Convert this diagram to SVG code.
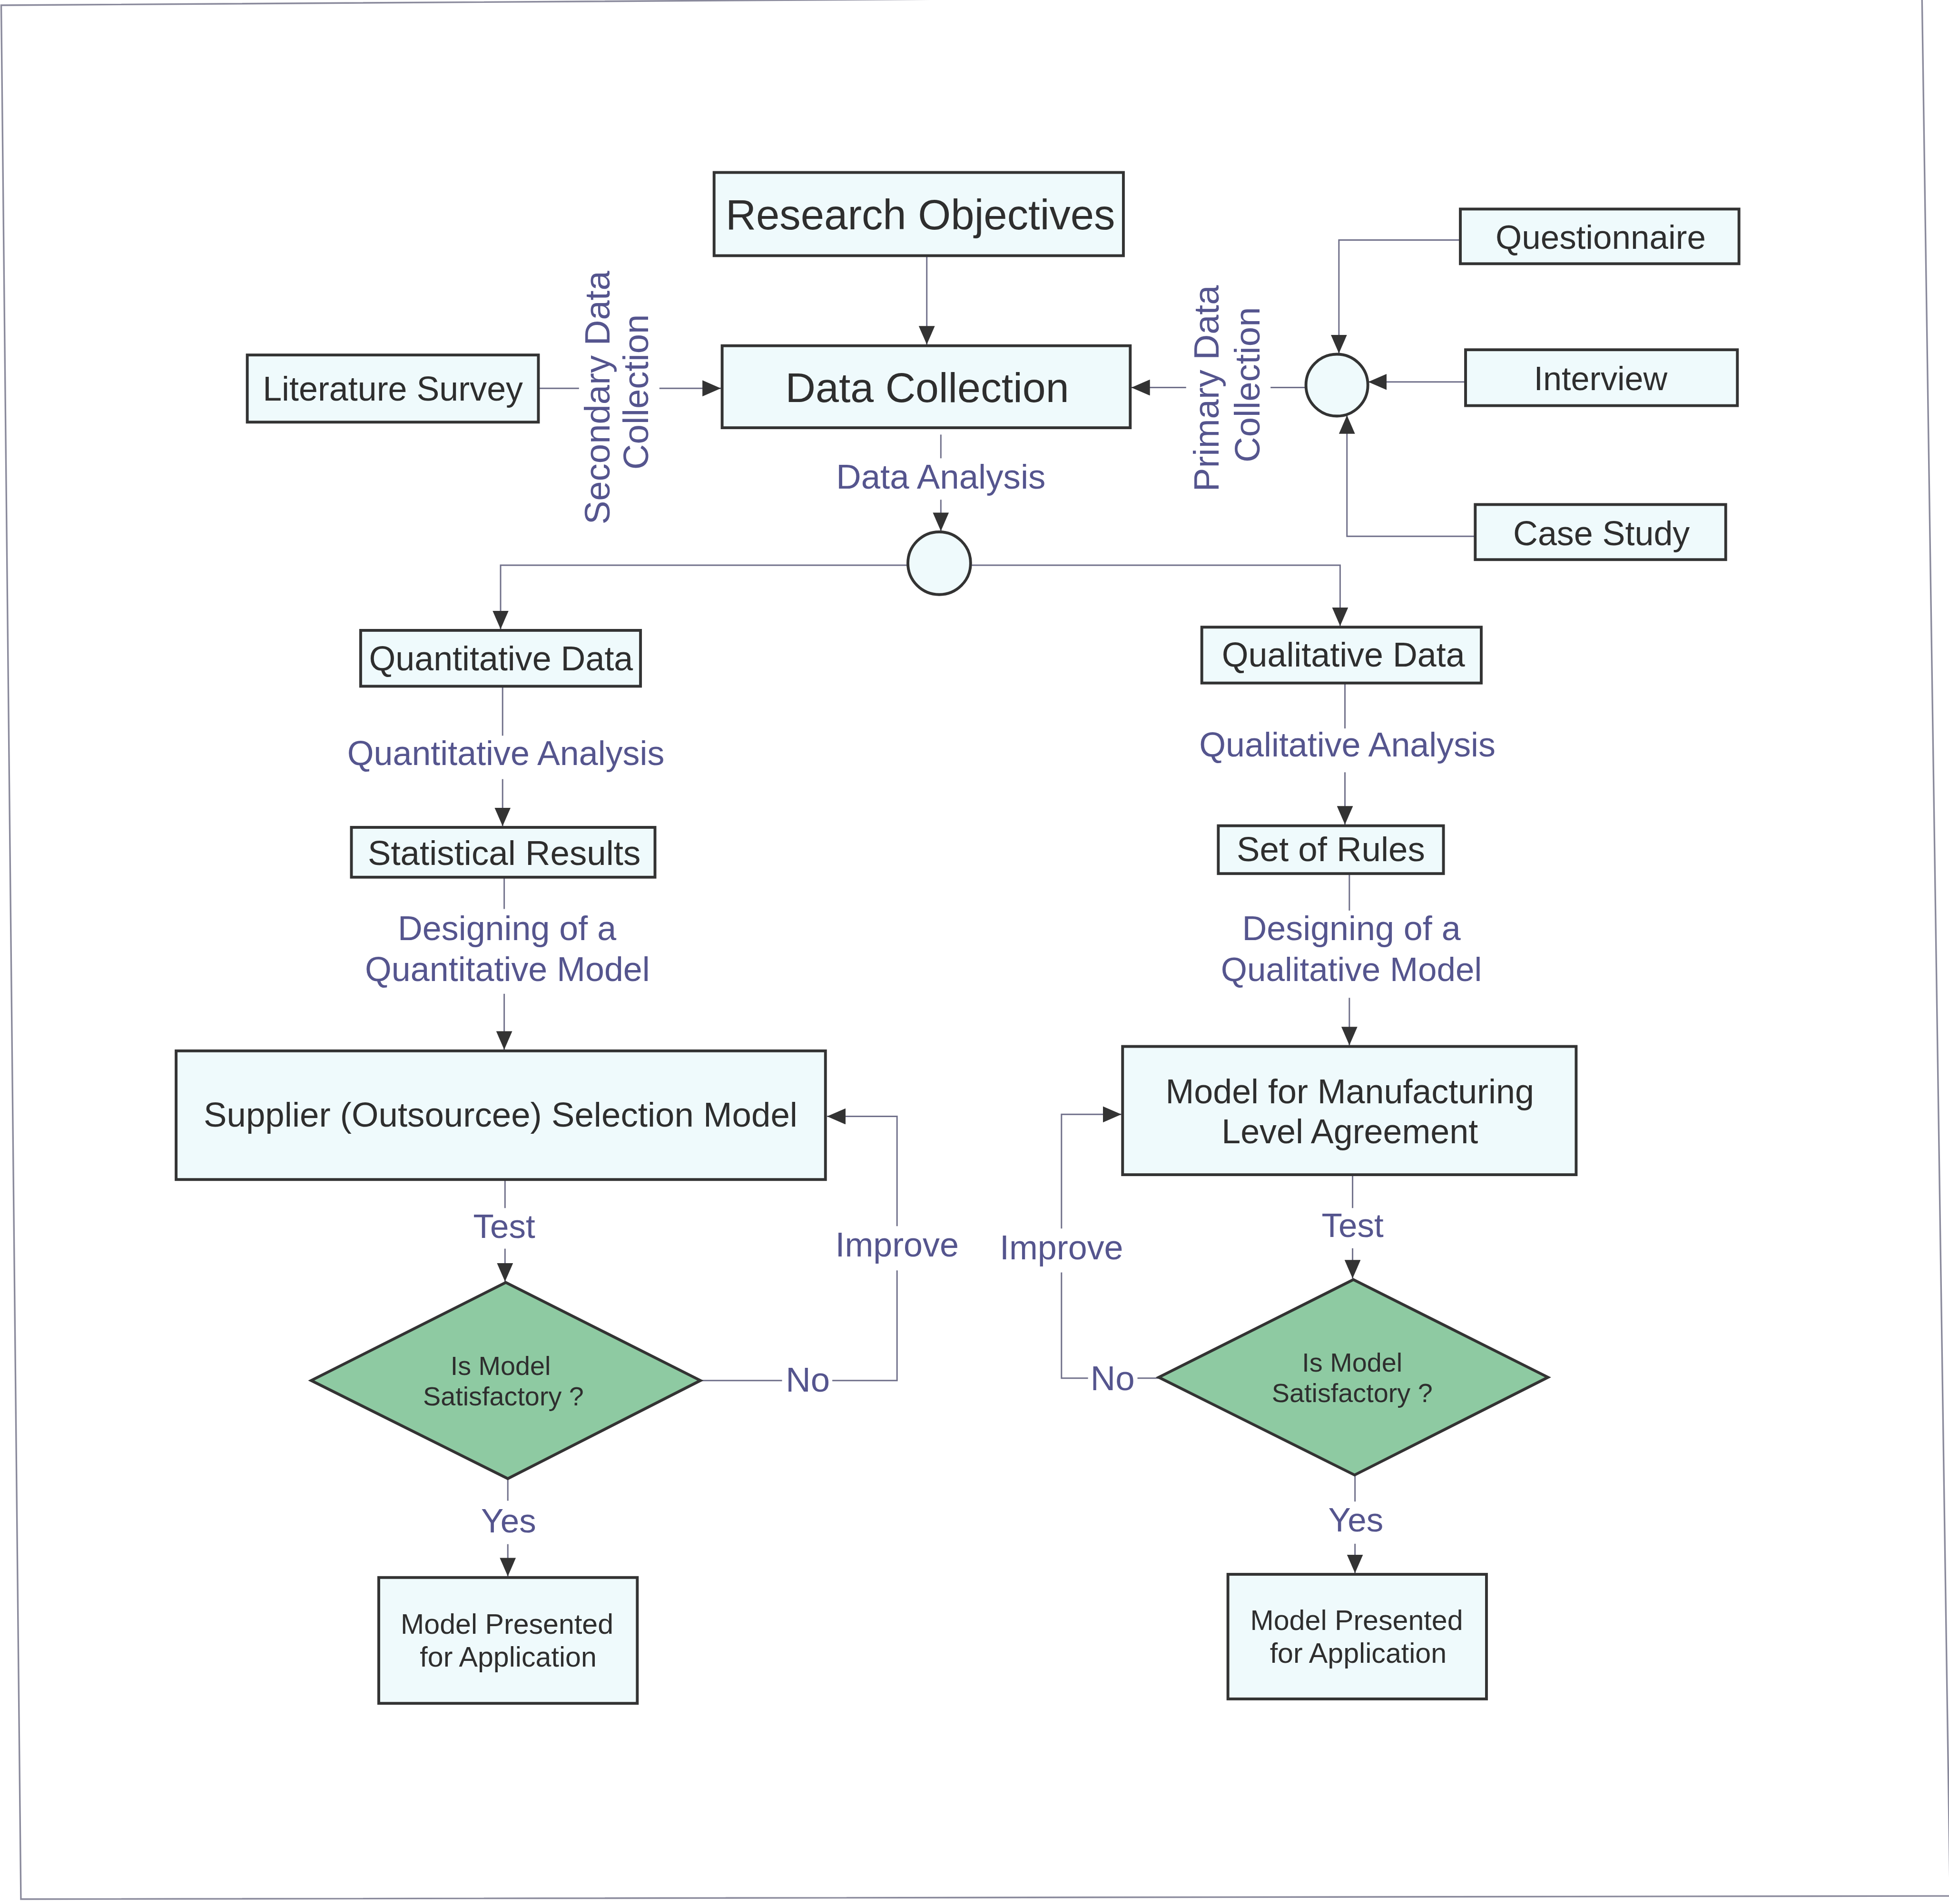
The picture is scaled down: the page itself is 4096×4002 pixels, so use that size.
<svg xmlns="http://www.w3.org/2000/svg" width="4096" height="4002" viewBox="0 0 4096 4002">
<style>
.box{fill:#effafc;stroke:#333;stroke-width:7}
.dia{fill:#8ecaa2;stroke:#333;stroke-width:7}
.ln{fill:none;stroke:#70708a;stroke-width:3.5}
.nt{font-family:"Liberation Sans",Arial,sans-serif;fill:#2e2e2e;text-anchor:middle}
.lb{font-family:"Liberation Sans",Arial,sans-serif;fill:#55558e;text-anchor:middle}
</style>
<defs>
<marker id="ah" viewBox="0 0 46 40" refX="46" refY="20" markerWidth="46" markerHeight="40" markerUnits="userSpaceOnUse" orient="auto">
<path d="M0,0 L46,20 L0,40 z" fill="#333"/>
</marker>
</defs>
<rect x="0" y="0" width="4096" height="4002" fill="#fff"/>
<g transform="scale(0.845)">
<polygon id="frame" points="3,13 4780,-18 4850,4716 52,4724" fill="none" stroke="#8a8a9c" stroke-width="4"/>

<g id="connectors">
<path class="ln" d="M2305,636 V857" marker-end="url(#ah)"/>
<path class="ln" d="M1339,966 H1440"/>
<path class="ln" d="M1640,966 H1793" marker-end="url(#ah)"/>
<path class="ln" d="M3248,964 H3160"/>
<path class="ln" d="M2950,964 H2814" marker-end="url(#ah)"/>
<path class="ln" d="M3632,597 H3330 V879" marker-end="url(#ah)"/>
<path class="ln" d="M3645,950 H3403" marker-end="url(#ah)"/>
<path class="ln" d="M3669,1334 H3350 V1033" marker-end="url(#ah)"/>
<path class="ln" d="M2340,1081 V1140"/>
<path class="ln" d="M2340,1243 V1321" marker-end="url(#ah)"/>
<path class="ln" d="M2258,1406 H1245 V1565" marker-end="url(#ah)"/>
<path class="ln" d="M2414,1406 H3333 V1557" marker-end="url(#ah)"/>
<path class="ln" d="M1250,1707 V1830"/>
<path class="ln" d="M1250,1938 V2055" marker-end="url(#ah)"/>
<path class="ln" d="M1254,2182 V2261"/>
<path class="ln" d="M1254,2472 V2611" marker-end="url(#ah)"/>
<path class="ln" d="M1256,2934 V3005"/>
<path class="ln" d="M1256,3106 V3188" marker-end="url(#ah)"/>
<path class="ln" d="M1742,3434 H1945"/>
<path class="ln" d="M2070,3434 H2231 V3160"/>
<path class="ln" d="M2231,3050 V2777 H2057" marker-end="url(#ah)"/>
<path class="ln" d="M1263,3678 V3733"/>
<path class="ln" d="M1263,3841 V3921" marker-end="url(#ah)"/>
<path class="ln" d="M3345,1699 V1812"/>
<path class="ln" d="M3345,1921 V2051" marker-end="url(#ah)"/>
<path class="ln" d="M3356,2173 V2265"/>
<path class="ln" d="M3356,2482 V2600" marker-end="url(#ah)"/>
<path class="ln" d="M3364,2922 V3005"/>
<path class="ln" d="M3364,3105 V3180" marker-end="url(#ah)"/>
<path class="ln" d="M2882,3428 H2829"/>
<path class="ln" d="M2706,3428 H2640 V3165"/>
<path class="ln" d="M2640,3056 V2772 H2789" marker-end="url(#ah)"/>
<path class="ln" d="M3370,3669 V3735"/>
<path class="ln" d="M3370,3840 V3913" marker-end="url(#ah)"/>
</g>

<g id="edge-labels">
<text class="lb" font-size="88" transform="rotate(-90 1516 989)" x="1516" y="989">Secondary Data</text>
<text class="lb" font-size="88" transform="rotate(-90 1612 975)" x="1612" y="975">Collection</text>
<text class="lb" font-size="88" transform="rotate(-90 3031 966)" x="3031" y="966">Primary Data</text>
<text class="lb" font-size="88" transform="rotate(-90 3133 957)" x="3133" y="957">Collection</text>
<text class="lb" font-size="86" x="2340" y="1215">Data Analysis</text>
<text class="lb" font-size="85" x="1258" y="1903">Quantitative Analysis</text>
<text class="lb" font-size="85" x="1261" y="2338">Designing of a</text>
<text class="lb" font-size="85" x="1262" y="2440">Quantitative Model</text>
<text class="lb" font-size="84" x="1254" y="3079">Test</text>
<text class="lb" font-size="85" x="2231" y="3125">Improve</text>
<text class="lb" font-size="86" x="2009" y="3462">No</text>
<text class="lb" font-size="84" x="1265" y="3812">Yes</text>
<text class="lb" font-size="85" x="3351" y="1882">Qualitative Analysis</text>
<text class="lb" font-size="85" x="3361" y="2338">Designing of a</text>
<text class="lb" font-size="84" x="3361" y="2440">Qualitative Model</text>
<text class="lb" font-size="84" x="3364" y="3077">Test</text>
<text class="lb" font-size="85" x="2640" y="3132">Improve</text>
<text class="lb" font-size="86" x="2767" y="3458">No</text>
<text class="lb" font-size="84" x="3372" y="3810">Yes</text>
</g>

<g id="research-objectives">
<rect class="box" x="1776" y="429" width="1018" height="207"/>
<text class="nt" font-size="105" x="2289" y="571">Research Objectives</text>
</g>
<g id="data-collection">
<rect class="box" x="1796" y="860" width="1015" height="204"/>
<text class="nt" font-size="104" x="2306" y="1000">Data Collection</text>
</g>
<g id="literature-survey">
<rect class="box" x="615" y="883" width="724" height="167"/>
<text class="nt" font-size="85" x="977" y="997">Literature Survey</text>
</g>
<g id="questionnaire">
<rect class="box" x="3632" y="520" width="693" height="136"/>
<text class="nt" font-size="84" x="3981" y="619">Questionnaire</text>
</g>
<g id="interview">
<rect class="box" x="3645" y="870" width="676" height="139"/>
<text class="nt" font-size="83" x="3981" y="970">Interview</text>
</g>
<g id="case-study">
<rect class="box" x="3669" y="1255" width="623" height="137"/>
<text class="nt" font-size="85" x="3983" y="1356">Case Study</text>
</g>
<g id="primary-junction">
<circle class="box" cx="3325" cy="958" r="77"/>
</g>
<g id="analysis-junction">
<circle class="box" cx="2336" cy="1401" r="78"/>
</g>
<g id="quantitative-data">
<rect class="box" x="897" y="1568" width="696" height="139"/>
<text class="nt" font-size="85" x="1246" y="1668">Quantitative Data</text>
</g>
<g id="statistical-results">
<rect class="box" x="874" y="2058" width="755" height="124"/>
<text class="nt" font-size="86" x="1254" y="2152">Statistical Results</text>
</g>
<g id="supplier-model">
<rect class="box" x="438" y="2614" width="1615" height="320"/>
<text class="nt" font-size="86" x="1245" y="2802">Supplier (Outsourcee) Selection Model</text>
</g>
<g id="decision-left">
<polygon class="dia" points="1258,3190 1742,3434 1263,3678 774,3434"/>
<text class="nt" font-size="66" x="1245" y="3420">Is Model</text>
<text class="nt" font-size="66" x="1252" y="3496">Satisfactory ?</text>
</g>
<g id="presented-left">
<rect class="box" x="942" y="3924" width="643" height="313"/>
<text class="nt" font-size="70" x="1261" y="4064">Model Presented</text>
<text class="nt" font-size="70" x="1264" y="4145">for Application</text>
</g>
<g id="qualitative-data">
<rect class="box" x="2989" y="1560" width="695" height="139"/>
<text class="nt" font-size="85" x="3341" y="1658">Qualitative Data</text>
</g>
<g id="set-of-rules">
<rect class="box" x="3030" y="2054" width="560" height="119"/>
<text class="nt" font-size="86" x="3310" y="2142">Set of Rules</text>
</g>
<g id="mla-model">
<rect class="box" x="2792" y="2603" width="1128" height="319"/>
<text class="nt" font-size="85" x="3357" y="2744">Model for Manufacturing</text>
<text class="nt" font-size="85" x="3357" y="2844">Level Agreement</text>
</g>
<g id="decision-right">
<polygon class="dia" points="3366,3183 3850,3426 3369,3669 2882,3426"/>
<text class="nt" font-size="66" x="3363" y="3412">Is Model</text>
<text class="nt" font-size="66" x="3363" y="3488">Satisfactory ?</text>
</g>
<g id="presented-right">
<rect class="box" x="3054" y="3916" width="643" height="310"/>
<text class="nt" font-size="70" x="3374" y="4055">Model Presented</text>
<text class="nt" font-size="70" x="3378" y="4136">for Application</text>
</g>
</g>
</svg>
